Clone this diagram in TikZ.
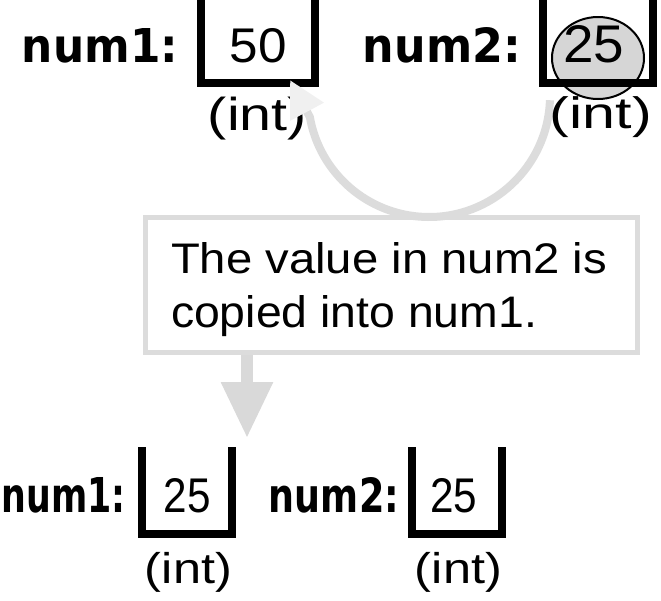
\documentclass[tikz,border=0pt]{standalone}
\usepackage{fontspec}
\usepackage{graphicx}
\setmainfont{Liberation Sans}
\newfontfamily\lblfont{DejaVu Sans}
\usetikzlibrary{arrows.meta,shapes.geometric,calc}
\definecolor{arcgray}{HTML}{DCDCDC}
\definecolor{headgray}{HTML}{F0F0F0}
\definecolor{ovalgray}{HTML}{D6D6D6}
\definecolor{downgray}{HTML}{D9D9D9}
\newcommand\fitbox[3]{\resizebox{#1pt}{#2pt}{#3}}
\newcommand\fitboxt[3]{\resizebox*{#1pt}{#2pt}{#3}}
\tikzset{
  ubox/.style={line width=8pt, draw=black, line join=miter},
  txt/.style={inner sep=0pt, outer sep=0pt},
  lbl/.style={txt, anchor=base},
  notebox/.style={draw=arcgray, line width=5pt, fill=none, minimum width=492pt, minimum height=135pt, inner sep=0pt},
  oval/.style={ellipse, draw=black, line width=2pt, fill=ovalgray, minimum width=92pt, minimum height=82pt, inner sep=0pt},
  arcline/.style={draw=arcgray, line width=8pt, -{Triangle[length=36pt, width=36pt, color=headgray]}},
  downarrow/.style={draw=downgray, line width=12pt, -{Triangle[length=56pt, width=49pt, color=downgray]}}
}
\begin{document}
\begin{tikzpicture}[x=1pt, y=-1pt]
\useasboundingbox (0,0) rectangle (661,600);
\fill[white] (0,0) rectangle (661,600);

% note box
\node[notebox] (note) at (391.5,285) {};
\node[txt, anchor=base west] (line1) at (171,273) {\fitbox{436}{31}{The value in num2 is}};
\node[txt, anchor=base west] (line2) at (171,327) {\fitbox{366}{32}{copied into num1.}};

% top left
\node[lbl] (lblA) at (100,62) {\fitbox{156}{34}{\lblfont\bfseries num1:}};
\draw[ubox] (201,-10) -- (201,83) -- (315,83) -- (315,-10);
\node[lbl] (valA) at (258.5,62) {\fitbox{57}{34}{50}};
\node[txt] (typA) at (257.5,118.5) {\fitboxt{99}{43}{(int)}};

% copy arc
\coordinate (ctr) at (429,96);
\coordinate (arcend) at (290,80);
\draw[arcline] ($(ctr)+(2:121)$) arc[start angle=2, end angle=170, radius=121] -- (arcend);

% top right
\node[lbl] (lblB) at (442,62) {\fitbox{158}{35}{\lblfont\bfseries num2:}};
\node[oval] (src) at (598,58) {};
\draw[ubox] (542.5,-10) -- (542.5,83) -- (652.5,83) -- (652.5,-10);
\node[lbl] (valB) at (593.5,62) {\fitbox{61}{37}{25}};
\node[txt] (typB) at (601,117.5) {\fitboxt{102}{41}{(int)}};

% down arrow
\coordinate (dn) at (247,438);
\draw[downarrow] (note.south -| dn) -- (dn);

% bottom left
\node[lbl] (lblC) at (63.5,512) {\fitbox{124}{35}{\lblfont\bfseries num1:}};
\draw[ubox] (142,447) -- (142,534) -- (232,534) -- (232,447);
\node[lbl] (valC) at (187.5,512) {\fitbox{47}{34}{25}};
\node[txt] (typC) at (188.5,572) {\fitboxt{87}{40}{(int)}};

% bottom right
\node[lbl] (lblD) at (334,512) {\fitbox{130}{35}{\lblfont\bfseries num2:}};
\draw[ubox] (412,447) -- (412,534) -- (502,534) -- (502,447);
\node[lbl] (valD) at (453.5,512) {\fitbox{47}{34}{25}};
\node[txt] (typD) at (458.5,572) {\fitboxt{87}{40}{(int)}};
\end{tikzpicture}
\end{document}
